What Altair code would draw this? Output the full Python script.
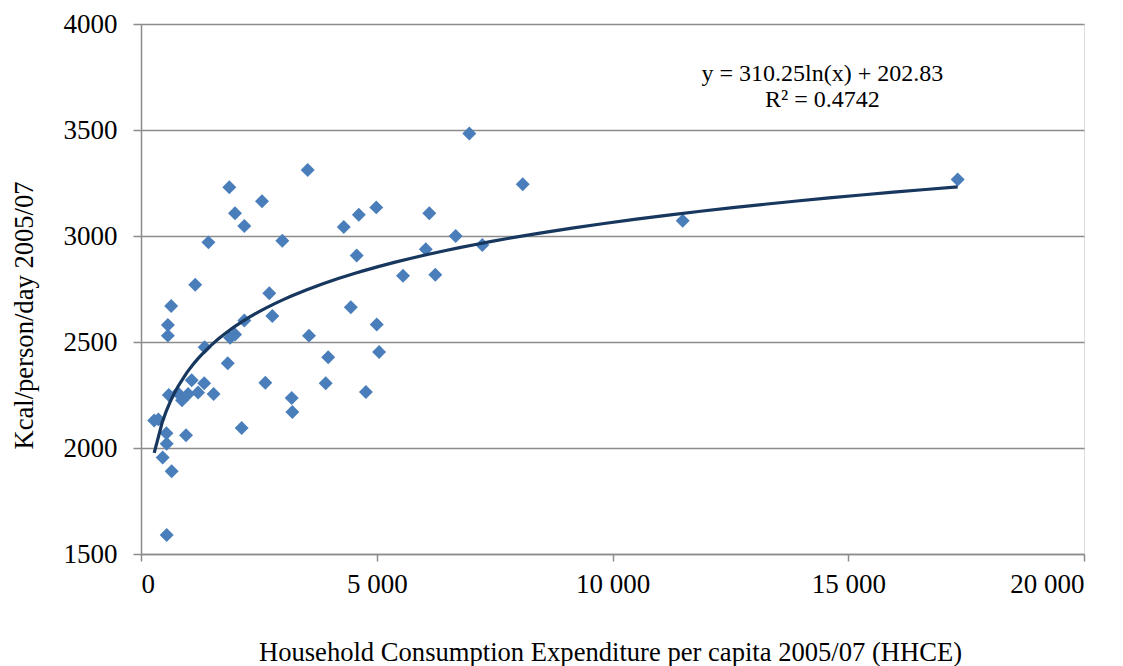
import altair as alt
import pandas as pd

hhce = [280, 370, 460, 540, 545, 545, 650, 590, 570, 570, 640, 780, 870, 955,
        1000, 1075, 1210, 1340, 1540, 1350, 1150, 1430, 1840, 1890, 1995, 1873,
        1994, 2191, 2191, 2135, 2566, 2637, 2721, 2785, 2997, 3196, 3210, 3535,
        3563, 3917, 3970, 4300, 4450, 4575, 4620, 4770, 4990, 5000, 5050, 5557,
        6040, 6115, 6242, 6674, 6963, 7239, 8096, 11489, 17321]
kcal = [2130, 2135, 1955, 2070, 2020, 1590, 1890, 2250, 2530, 2580, 2670, 2260,
        2225, 2060, 2255, 2320, 2262, 2305, 2255, 2475, 2770, 2970, 2400, 2520,
        2535, 3230, 3107, 3047, 2601, 2094, 3164, 2308, 2730, 2623, 2978, 2236,
        2170, 3311, 2530, 2305, 2428, 3042, 2664, 2908, 3100, 2264, 3135, 2583,
        2453, 2813, 2937, 3107, 2817, 3000, 3483, 2958, 3244, 3072, 3267]

eq_lines = ["y = 310.25ln(x) + 202.83", "R² = 0.4742"]
eq_x = [14450, 14450]
eq_y = [3765, 3643]

x_ticks = [0, 5000, 10000, 15000, 20000]
y_ticks = [1500, 2000, 2500, 3000, 3500, 4000]

df = pd.DataFrame({"x": hhce, "y": kcal})
ann = pd.DataFrame({"t": eq_lines, "x": eq_x, "y": eq_y})

FONT = "Liberation Serif, Times New Roman, DejaVu Serif, serif"
GRID = "#8c8c8c"

xs = alt.Scale(domain=[0, 20000], nice=False, zero=False)
ys = alt.Scale(domain=[1500, 4000], nice=False, zero=False)

xaxis = alt.Axis(
    values=x_ticks,
    labelExpr="replace(format(datum.value, ','), ',', ' ')",
    grid=False, domainColor=GRID, domainWidth=1.5, tickColor=GRID, tickWidth=1.5,
    tickSize=7, labelPadding=10, labelFont=FONT, labelFontSize=27, labelColor="black",
    title="Household Consumption Expenditure per capita 2005/07 (HHCE)",
    titleFont=FONT, titleFontSize=26.6, titleFontWeight="normal", titleColor="black",
    titleX=469, titleY=85, titleBaseline="top", titleAlign="center",
)
yaxis = alt.Axis(
    values=y_ticks, format="d",
    grid=True, gridColor=GRID, gridWidth=1.5,
    domainColor=GRID, domainWidth=1.5, tickColor=GRID, tickWidth=1.5,
    tickSize=8, labelPadding=16, labelFont=FONT, labelFontSize=27, labelColor="black",
    title="Kcal/person/day  2005/07",
    titleFont=FONT, titleFontSize=26.6, titleFontWeight="normal", titleColor="black",
    titleX=-117, titleY=291, titleAngle=-90, titleAlign="center", titleBaseline="middle",
)

base = alt.Chart(df)

points = base.mark_point(shape="diamond", filled=True, size=195, opacity=1,
                         color="#4A7EBB").encode(
    x=alt.X("x:Q", scale=xs, axis=xaxis),
    y=alt.Y("y:Q", scale=ys, axis=yaxis),
)

trend = base.transform_regression("x", "y", method="log").mark_line(
    color="#17375E", strokeWidth=3.2).encode(
    x=alt.X("x:Q", scale=xs),
    y=alt.Y("y:Q", scale=ys),
)

text = alt.Chart(ann).mark_text(font=FONT, fontSize=24, color="black",
                                align="center", baseline="middle").encode(
    x=alt.X("x:Q", scale=xs),
    y=alt.Y("y:Q", scale=ys),
    text="t:N",
)

chart = alt.layer(points, trend, text).properties(
    width=943, height=530,
    autosize=alt.AutoSizeParams(type="none"),
    padding={"left": 141, "top": 24, "right": 39, "bottom": 112},
    background="white",
).configure_view(stroke=None).configure(font=FONT)

chart.save("out.html", embed_options={"renderer": "svg", "actions": False})
